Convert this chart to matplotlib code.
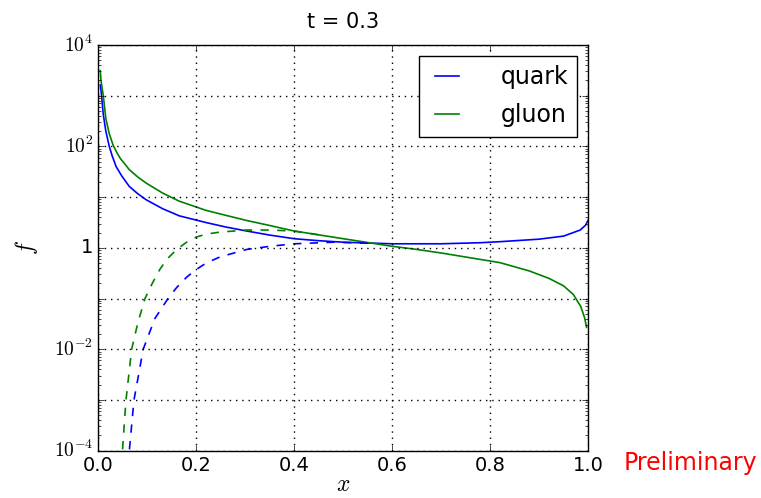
import numpy as np
import matplotlib
matplotlib.use("Agg")
import matplotlib.pyplot as plt
from matplotlib.ticker import FixedLocator, FuncFormatter, LogLocator

plt.style.use("classic")
plt.rcParams["mathtext.fontset"] = "cm"

# quark, solid
xq = [0.0037, 0.0051, 0.0065, 0.0098, 0.015, 0.022, 0.028, 0.036, 0.048, 0.063, 0.08,
      0.097, 0.131, 0.165, 0.219, 0.26, 0.302, 0.35, 0.4, 0.45, 0.5, 0.6, 0.7, 0.78,
      0.82, 0.9, 0.95, 0.984, 0.995, 1.0]
fq = [1620, 1290, 950, 427, 200, 100, 65, 40, 25.7, 16.2, 11.7,
      8.9, 5.9, 4.27, 3.16, 2.57, 2.15, 1.78, 1.51, 1.38, 1.29, 1.2, 1.2, 1.26,
      1.32, 1.48, 1.7, 2.24, 2.8, 3.47]

# gluon, solid
xg = [0.0037, 0.0051, 0.0098, 0.015, 0.022, 0.03, 0.038, 0.045, 0.053, 0.063, 0.08,
      0.097, 0.131, 0.165, 0.219, 0.26, 0.302, 0.35, 0.4, 0.45, 0.5, 0.56, 0.6, 0.65,
      0.7, 0.78, 0.82, 0.88, 0.92, 0.95, 0.97, 0.985, 0.993, 0.997]
fg = [3090, 2000, 1000, 355, 178, 105, 74, 57, 46, 34.7, 25,
      19, 12, 8.3, 5.5, 4.37, 3.47, 2.75, 2.14, 1.8, 1.51, 1.23, 1.07, 0.93,
      0.79, 0.59, 0.51, 0.35, 0.25, 0.178, 0.12, 0.07, 0.042, 0.027]

# gluon, dashed
xgd = [0.047, 0.049, 0.0561, 0.0678, 0.08, 0.095, 0.11, 0.125, 0.14, 0.16, 0.18,
       0.199, 0.22, 0.248, 0.303, 0.35, 0.4, 0.45]
fgd = [5e-5, 1e-4, 9.8e-4, 0.01, 0.032, 0.1, 0.2, 0.37, 0.6, 0.93, 1.29,
       1.62, 1.86, 2.04, 2.24, 2.24, 2.14, 1.8]

# quark, dashed
xqd = [0.061, 0.063, 0.0724, 0.0914, 0.115, 0.142, 0.16, 0.18, 0.199, 0.22, 0.248,
       0.303, 0.35, 0.4, 0.48, 0.55]
fqd = [5e-5, 1e-4, 9.8e-4, 0.01, 0.04, 0.1, 0.166, 0.263, 0.37, 0.5, 0.66,
       0.93, 1.07, 1.2, 1.29, 1.23]

fig = plt.figure(figsize=(7.61, 4.98), dpi=100)
ax = fig.add_axes([0.1294, 0.0950, 0.6433, 0.8148])

ax.plot(xq, fq, color="b", lw=1.2, label="quark")
ax.plot(xg, fg, color="g", lw=1.2, label="gluon")
ax.plot(xgd, fgd, color="g", lw=1.2, ls="--")
ax.plot(xqd, fqd, color="b", lw=1.2, ls="--")

ax.set_yscale("log")
ax.set_xlim(0, 1)
ax.set_ylim(1e-4, 1e4)

ax.yaxis.set_major_locator(FixedLocator([10.0**k for k in range(-4, 5)]))
ax.yaxis.set_minor_locator(LogLocator(base=10, subs=np.arange(2, 10)))


def ylab(v, pos):
    k = int(round(np.log10(v)))
    if k % 2:
        return ""
    if k == 0:
        return "1"
    return r"$10^{%d}$" % k


ax.yaxis.set_major_formatter(FuncFormatter(ylab))
ax.set_xticks([0.0, 0.2, 0.4, 0.6, 0.8, 1.0])
ax.tick_params(labelsize=14)
ax.grid(True, color="k", linestyle=(0, (1, 3.5)), linewidth=1.0)

ax.set_title("t = 0.3", fontsize=15, y=1.025)
ax.set_xlabel(r"$x$", fontsize=17, labelpad=-2)
ax.set_ylabel(r"$f$", fontsize=17, labelpad=10)

ax.legend(loc="upper right", fontsize=17, handlelength=1.6, handletextpad=1.45,
          labelspacing=0.6, borderaxespad=0.45, frameon=True)

fig.text(0.82, 0.057, "Preliminary", color="red", fontsize=17)

fig.savefig("out.png", dpi=100)
